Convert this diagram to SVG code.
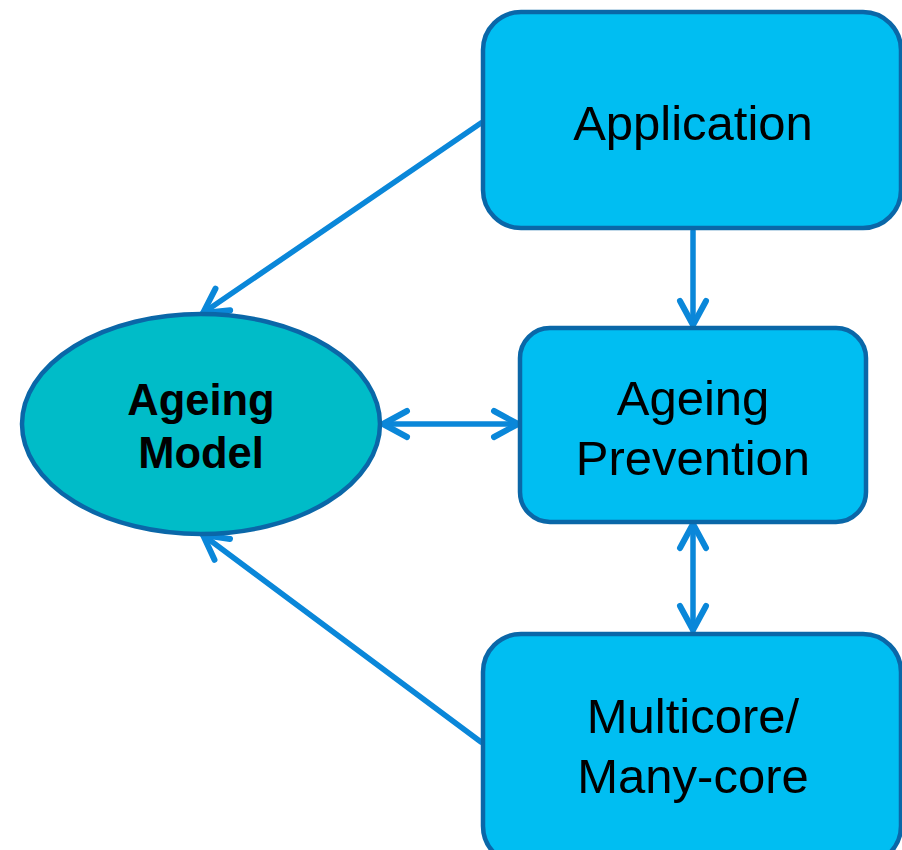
<svg xmlns="http://www.w3.org/2000/svg" width="902" height="850" viewBox="0 0 902 850">
  <style>
    .box { fill: #00BEF2; stroke: #0A67A8; stroke-width: 4.5; }
    .ell { fill: #00BCC8; stroke: #0A67A8; stroke-width: 4.5; }
    .lbl { font-family: "Liberation Sans", Arial, sans-serif; font-size: 49px; fill: #000; text-anchor: middle; }
    .bold { font-weight: bold; font-size: 43.5px; }
    .conn { stroke: #0A87D9; stroke-width: 5.5; fill: none; stroke-linecap: round; }
  </style>
  <defs>
    <!-- open chevron head, drawn in user units so every connector gets the same size -->
    <marker id="chev" markerUnits="userSpaceOnUse" markerWidth="40" markerHeight="40" viewBox="-30 -20 40 40" refX="0" refY="0" orient="auto-start-reverse" overflow="visible">
      <path d="M -24 -13 L 0 0 L -24 13" fill="none" stroke="#0A87D9" stroke-width="6" stroke-linecap="round" stroke-linejoin="round"/>
    </marker>
  </defs>

  <g id="connectors">
    <line class="conn" x1="481" y1="123" x2="203" y2="313" marker-end="url(#chev)"/>
    <line class="conn" x1="481" y1="742" x2="203" y2="535" marker-end="url(#chev)"/>
    <line class="conn" x1="693" y1="231" x2="693" y2="325" marker-end="url(#chev)"/>
    <line class="conn" x1="693" y1="524" x2="693" y2="630" marker-start="url(#chev)" marker-end="url(#chev)"/>
    <line class="conn" x1="383" y1="424" x2="518" y2="424" marker-start="url(#chev)" marker-end="url(#chev)"/>
  </g>

  <g id="application">
    <rect class="box" x="483" y="12" width="418" height="216" rx="38"/>
    <text class="lbl" x="693" y="140">Application</text>
  </g>

  <g id="ageing-prevention">
    <rect class="box" x="520" y="328" width="346" height="194" rx="30"/>
    <text class="lbl" x="693" y="415">Ageing</text>
    <text class="lbl" x="693" y="475">Prevention</text>
  </g>

  <g id="multicore">
    <rect class="box" x="483" y="634" width="418" height="230" rx="38"/>
    <text class="lbl" x="693" y="733">Multicore/</text>
    <text class="lbl" x="693" y="793">Many-core</text>
  </g>

  <g id="ageing-model">
    <ellipse class="ell" cx="201" cy="424" rx="179" ry="110"/>
    <text class="lbl bold" x="201" y="415">Ageing</text>
    <text class="lbl bold" x="201" y="468">Model</text>
  </g>
</svg>
